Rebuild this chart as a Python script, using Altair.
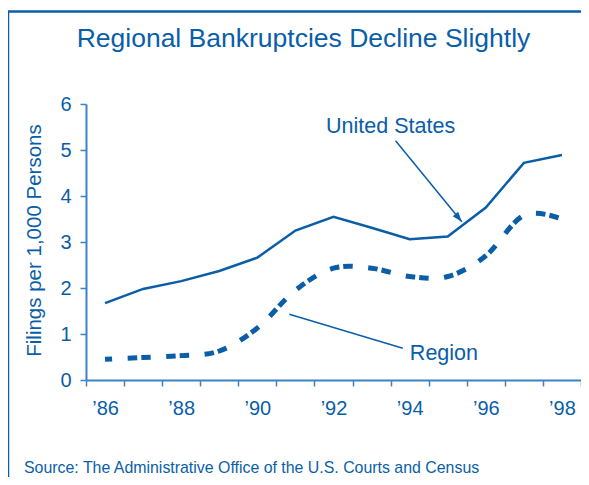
import altair as alt
import pandas as pd

# ---- data ----
years = [86, 87, 88, 89, 90, 91, 92, 93, 94, 95, 96, 97, 98]
us_values = [1.67, 1.98, 2.15, 2.37, 2.66, 3.25, 3.55, 3.31, 3.06, 3.12, 3.75, 4.72, 4.89]
region_values = [0.45, 0.49, 0.53, 0.63, 1.13, 1.95, 2.43, 2.43, 2.25, 2.25, 2.70, 3.58, 3.50]

x_label_values = [86, 88, 90, 92, 94, 96, 98]
x_tick_values = [85.5 + i for i in range(14)]
y_tick_values = [0, 1, 2, 3, 4, 5, 6]

label_texts = ["United States", "Region"]
label_years = [93.5, 94.9]
label_values = [5.36, 0.435]

leader_names = ["United States", "Region"]
leader_x1 = [93.63, 90.84]
leader_y1 = [5.20, 1.43]
leader_x2 = [95.37, 93.82]
leader_y2 = [3.44, 0.69]

title_text = "Regional Bankruptcies Decline Slightly"
source_text = "Source: The Administrative Office of the U.S. Courts and Census"
y_title = "Filings per 1,000 Persons"

BLUE = "#0A5EA8"
AXIS = "#3A84C4"
FONT = "Liberation Sans"

us_df = pd.DataFrame({"year": years, "value": us_values})
reg_df = pd.DataFrame({"year": years, "value": region_values})
lab_df = pd.DataFrame({"text": label_texts, "year": label_years, "value": label_values})
lead_df = pd.DataFrame({"name": leader_names, "x1": leader_x1, "y1": leader_y1,
                        "x2": leader_x2, "y2": leader_y2})
arrow_df = lead_df[lead_df["name"] == "United States"]
one = pd.DataFrame({"a": [0]})

x_scale = alt.Scale(domain=[85.5, 98.5], nice=False, zero=False)
y_scale = alt.Scale(domain=[0, 6], nice=False)

# axis carrying the year labels (no ticks)
x_axis_labels = alt.Axis(
    orient="bottom", values=x_label_values,
    labelExpr="'\u2019' + datum.value",
    labelOverlap=False, labelFlush=False, labelBound=False,
    ticks=False, labelPadding=18, labelFontSize=20, labelFont=FONT,
    labelColor=BLUE, domainColor=AXIS, domainWidth=2,
    grid=False, title=None,
)
# axis carrying the tick marks between years (no labels)
x_axis_ticks = alt.Axis(
    orient="bottom", values=x_tick_values, labels=False, domain=False,
    tickSize=6, tickColor=AXIS, tickWidth=1.5, grid=False, title=None,
)
y_axis = alt.Axis(
    values=y_tick_values, tickSize=6, labelPadding=9, labelFontSize=20, labelFont=FONT,
    labelColor=BLUE, domainColor=AXIS, tickColor=AXIS, domainWidth=2, tickWidth=1.5,
    grid=False, title=y_title, titleFont=FONT, titleFontSize=20.5, titleFontWeight="normal",
    titleColor=BLUE, titleX=-52, titleY=136, titleAngle=270, titleBaseline="middle",
    titleAlign="center",
)

us_line = alt.Chart(us_df).mark_line(color=BLUE, strokeWidth=2.5).encode(
    x=alt.X("year:Q", scale=x_scale, axis=x_axis_labels),
    y=alt.Y("value:Q", scale=y_scale, axis=y_axis),
)

reg_line = alt.Chart(reg_df).mark_line(
    color=BLUE, strokeWidth=5, interpolate="cardinal",
    strokeDash=[9.5, 4, 9.5, 15.5], strokeDashOffset=15.8,
).encode(
    x=alt.X("year:Q", scale=x_scale, axis=x_axis_ticks),
    y=alt.Y("value:Q", scale=y_scale, axis=None),
)

leaders = alt.Chart(lead_df).mark_rule(color=BLUE, strokeWidth=1.5).encode(
    x=alt.X("x1:Q", axis=None), y=alt.Y("y1:Q", axis=None), x2="x2:Q", y2="y2:Q"
)

arrow_head = alt.Chart(arrow_df).mark_point(
    shape="M0,0L0.7,2L-0.7,2Z", filled=True, color=BLUE, opacity=1, size=100, angle=140.6
).encode(x=alt.X("x2:Q", axis=None), y=alt.Y("y2:Q", axis=None))

labels = alt.Chart(lab_df).mark_text(
    color=BLUE, font=FONT, fontSize=21.5, align="center", baseline="alphabetic"
).encode(x=alt.X("year:Q", axis=None), y=alt.Y("value:Q", axis=None), text="text:N")

title = alt.Chart(one).mark_text(
    text=title_text, color=BLUE, font=FONT, fontSize=26.5, align="center", baseline="alphabetic"
).encode(x=alt.value(217.5), y=alt.value(-57.3))

source = alt.Chart(one).mark_text(
    text=source_text, color=BLUE, font=FONT, fontSize=15.9, align="left", baseline="alphabetic"
).encode(x=alt.value(-62), y=alt.value(368.7))

frame_top = alt.Chart(one).mark_rule(color=BLUE, strokeWidth=2.5).encode(
    x=alt.value(-78), x2=alt.value(510), y=alt.value(-92.5)
)
frame_left = alt.Chart(one).mark_rule(color=BLUE, strokeWidth=2.5).encode(
    x=alt.value(-78), y=alt.value(-92.5), y2=alt.value(400)
)

chart = alt.layer(
    us_line, reg_line, leaders, arrow_head, labels, title, source, frame_top, frame_left
).resolve_axis(x="independent", y="independent").properties(
    width=495, height=276,
    autosize=alt.AutoSizeParams(type="none"),
    padding={"left": 78, "top": 96, "right": 0, "bottom": 97},
).configure_view(stroke=None)

chart.save("out.html", embed_options={"renderer": "svg", "actions": False})
